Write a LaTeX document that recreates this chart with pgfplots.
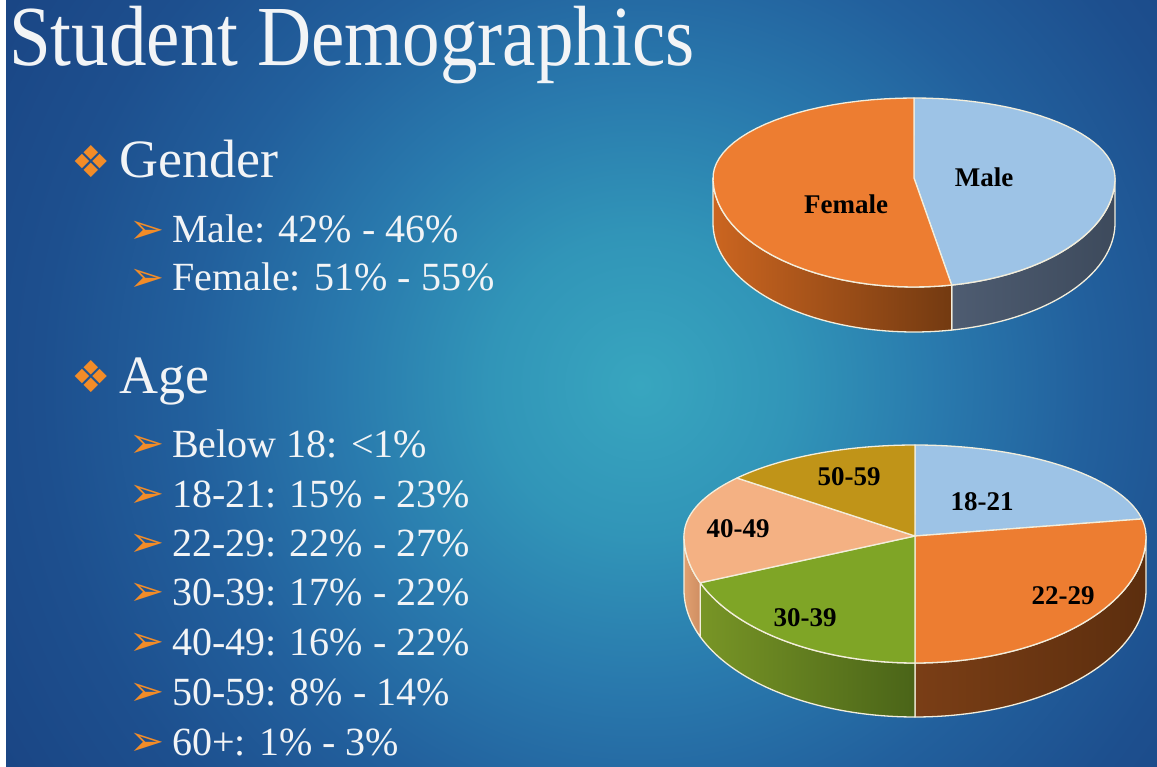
\documentclass[border=0pt]{standalone}
\usepackage{fontspec}
\setmainfont{Liberation Serif}
\newfontfamily\dejavu{DejaVu Sans}
\usepackage{pgfplots}
\pgfplotsset{compat=1.18}
\usepackage{pgfplotstable}

\definecolor{bgA}{HTML}{38A6BF}
\definecolor{bgB}{HTML}{3195B8}
\definecolor{bgC}{HTML}{2979AD}
\definecolor{bgD}{HTML}{22609D}
\definecolor{bgE}{HTML}{1D4F8E}
\definecolor{bgF}{HTML}{1A4584}
\definecolor{pblue}{HTML}{9DC3E6}
\definecolor{porange}{HTML}{ED7D31}
\definecolor{pgreen}{HTML}{7FA526}
\definecolor{ppeach}{HTML}{F4B183}
\definecolor{pgold}{HTML}{C09418}
\definecolor{edgec}{HTML}{F3EEDC}
\definecolor{txt}{HTML}{F2F4F6}
\definecolor{bul}{HTML}{F28C28}
\definecolor{wmA}{HTML}{4E5C71}
\definecolor{wmB}{HTML}{3D4A5C}
\definecolor{wfA}{HTML}{CB6520}
\definecolor{wfB}{HTML}{733A11}
\definecolor{woA}{HTML}{7A3E16}
\definecolor{woB}{HTML}{5C2E0E}
\definecolor{wgA}{HTML}{789526}
\definecolor{wgB}{HTML}{4A6418}
\definecolor{wpA}{HTML}{E0A070}
\definecolor{wpB}{HTML}{D08E62}

\pgfdeclareradialshading{bgshade}{\pgfpoint{0bp}{0bp}}{color(0bp)=(bgA); color(4.7bp)=(bgB); color(9.4bp)=(bgC); color(14bp)=(bgD); color(18.75bp)=(bgE); color(23.5bp)=(bgF); color(25bp)=(bgF); color(50bp)=(bgF)}

\pgfplotstableread{
Label Value
Male 47
Female 53
}\gendertab
\pgfplotstableread{
Label Value
18-21 22
22-29 28
30-39 19
40-49 17
50-59 14
}\agetab

% start/end angles (degrees) of each slice, clockwise from 12 o'clock, from the table values
\newcommand\computeangles[2]{%
  \pgfplotstablegetrowsof{#1}%
  \pgfmathtruncatemacro\nr{\pgfplotsretval-1}%
  \xdef\tot{0}%
  \foreach \i in {0,...,\nr}{%
    \pgfplotstablegetelem{\i}{Value}\of#1%
    \pgfmathsetmacro\tmpsum{\tot+\pgfplotsretval}%
    \xdef\tot{\tmpsum}}%
  \xdef\cum{90}%
  \foreach \i in {0,...,\nr}{%
    \pgfplotstablegetelem{\i}{Value}\of#1%
    \pgfmathsetmacro\nxt{\cum-(\pgfplotsretval/\tot)*360}%
    \expandafter\xdef\csname #2S\i\endcsname{\cum}%
    \expandafter\xdef\csname #2E\i\endcsname{\nxt}%
    \xdef\cum{\nxt}}%
}
\computeangles{\gendertab}{g}
\computeangles{\agetab}{a}
\newcommand\ang[1]{\csname #1\endcsname}

% points of an arc of the tilted pie rim, appended to \pts
\newcommand\arcpts[3]{%
  \pgfmathsetmacro\stp{(#2-#1)/48}%
  \foreach \k in {0,...,48}{%
    \pgfmathsetmacro\an{#1+\k*\stp}%
    \pgfmathsetmacro\sn{sin(\an)}%
    \pgfmathsetmacro\ry{\sn>0?\pryu:\pryd}%
    \pgfmathsetmacro\px{\pcx+\prx*cos(\an)}%
    \pgfmathsetmacro\py{\pcy-\ry*sin(\an)+#3}%
    \xdef\pts{\pts (\px,\py)}%
  }%
}
\newcommand\slicetop[3]{%
  \xdef\pts{(\pcx,\pcy)}%
  \arcpts{#2}{#1}{0}%
  \edef\tmp{\noexpand\addplot[fill=#3,draw=edgec,line width=1.3pt,line join=round] coordinates {\pts} -- cycle;}%
  \tmp}
\newcommand\slicewall[4]{%
  \pgfmathsetmacro\lo{max(#1,-180)}%
  \pgfmathsetmacro\hi{min(#2,0)}%
  \pgfmathtruncatemacro\ok{(\hi-\lo>0.01)?1:0}%
  \ifnum\ok=1
    \xdef\pts{}%
    \arcpts{\lo}{\hi}{0}%
    \arcpts{\hi}{\lo}{\pdep}%
    \edef\tmp{\noexpand\addplot[left color=#3,right color=#4,draw=edgec,line width=1.3pt,line join=round] coordinates {\pts} -- cycle;}%
    \tmp
  \fi}

\newcommand\bodyfont{\fontsize{40pt}{40pt}\selectfont}
\newcommand\headfont{\fontsize{54pt}{54pt}\selectfont}
\newcommand\lblfont{\bfseries\fontsize{27pt}{27pt}\selectfont}
\newcommand\arrfont{\dejavu\fontsize{42pt}{42pt}\selectfont}
\newcommand\diafont{\dejavu\fontsize{44pt}{44pt}\selectfont}

\begin{document}
\begin{tikzpicture}
\useasboundingbox (0,0) rectangle (1157pt,767pt);
\fill[white] (0,0) rectangle (1157pt,767pt);
\begin{scope}
\clip (6pt,0pt) rectangle (1157pt,766pt);
\shade[shading=bgshade] (640pt,382pt) circle (800pt);
\end{scope}
\begin{axis}[at={(0,0)},anchor=south west,width=1157pt,height=767pt,scale only axis,
  xmin=0,xmax=1157,ymin=0,ymax=767,y dir=reverse,hide axis,clip=false,no marks]
% ---- gender pie
\def\pcx{914}\def\pcy{178}\def\prx{201}\def\pryu{80}\def\pryd{109}\def\pdep{45}
\slicewall{\ang{gE0}}{\ang{gS0}}{wmA}{wmB}
\slicewall{\ang{gE1}}{\ang{gS1}}{wfA}{wfB}
\slicetop{\ang{gE0}}{\ang{gS0}}{pblue}
\slicetop{\ang{gE1}}{\ang{gS1}}{porange}
\node[font=\lblfont] at (axis cs:984,177) {Male};
\node[font=\lblfont] at (axis cs:846,204) {Female};
% ---- age pie
\def\pcx{915}\def\pcy{536}\def\prx{231}\def\pryu{91}\def\pryd{127}\def\pdep{54}
\slicewall{\ang{aE1}}{\ang{aS1}}{woA}{woB}
\slicewall{\ang{aE2}}{\ang{aS2}}{wgA}{wgB}
\slicewall{\ang{aE3}}{\ang{aS3}}{wpA}{wpB}
\slicetop{\ang{aE0}}{\ang{aS0}}{pblue}
\slicetop{\ang{aE1}}{\ang{aS1}}{porange}
\slicetop{\ang{aE2}}{\ang{aS2}}{pgreen}
\slicetop{\ang{aE3}}{\ang{aS3}}{ppeach}
\slicetop{\ang{aE4}}{\ang{aS4}}{pgold}
\node[font=\lblfont] at (axis cs:982,502) {18-21};
\node[font=\lblfont] at (axis cs:1063,596) {22-29};
\node[font=\lblfont] at (axis cs:805,618) {30-39};
\node[font=\lblfont] at (axis cs:738,529) {40-49};
\node[font=\lblfont] at (axis cs:849,477) {50-59};
% ---- slide text
\node[anchor=base west,inner sep=0,text=txt,yscale=1.14,transform shape,font=\fontsize{75pt}{75pt}\selectfont] at (axis cs:9,66) {Student Demographics};
\node[inner sep=0,text=bul,font=\diafont] at (axis cs:91,162) {❖};
\node[anchor=base west,inner sep=0,text=txt,font=\headfont] at (axis cs:119,178) {Gender};
\node[inner sep=0,text=bul,font=\arrfont] at (axis cs:147,232) {➢};
\node[anchor=base west,inner sep=0,text=txt,font=\bodyfont] at (axis cs:172,243) {Male: 42\% - 46\%};
\node[inner sep=0,text=bul,font=\arrfont] at (axis cs:147,280) {➢};
\node[anchor=base west,inner sep=0,text=txt,font=\bodyfont] at (axis cs:172,291) {Female: 51\% - 55\%};
\node[inner sep=0,text=bul,font=\diafont] at (axis cs:91,377) {❖};
\node[anchor=base west,inner sep=0,text=txt,font=\headfont] at (axis cs:119,393) {Age};
\node[inner sep=0,text=bul,font=\arrfont] at (axis cs:147,446) {➢};
\node[anchor=base west,inner sep=0,text=txt,font=\bodyfont] at (axis cs:172,457) {Below 18: <1\%};
\node[inner sep=0,text=bul,font=\arrfont] at (axis cs:147,496) {➢};
\node[anchor=base west,inner sep=0,text=txt,font=\bodyfont] at (axis cs:172,507) {18-21: 15\% - 23\%};
\node[inner sep=0,text=bul,font=\arrfont] at (axis cs:147,545) {➢};
\node[anchor=base west,inner sep=0,text=txt,font=\bodyfont] at (axis cs:172,556) {22-29: 22\% - 27\%};
\node[inner sep=0,text=bul,font=\arrfont] at (axis cs:147,594) {➢};
\node[anchor=base west,inner sep=0,text=txt,font=\bodyfont] at (axis cs:172,605) {30-39: 17\% - 22\%};
\node[inner sep=0,text=bul,font=\arrfont] at (axis cs:147,644) {➢};
\node[anchor=base west,inner sep=0,text=txt,font=\bodyfont] at (axis cs:172,655) {40-49: 16\% - 22\%};
\node[inner sep=0,text=bul,font=\arrfont] at (axis cs:147,694) {➢};
\node[anchor=base west,inner sep=0,text=txt,font=\bodyfont] at (axis cs:172,705) {50-59: 8\% - 14\%};
\node[inner sep=0,text=bul,font=\arrfont] at (axis cs:147,744) {➢};
\node[anchor=base west,inner sep=0,text=txt,font=\bodyfont] at (axis cs:172,755) {60+: 1\% - 3\%};
\end{axis}
\end{tikzpicture}
\end{document}
